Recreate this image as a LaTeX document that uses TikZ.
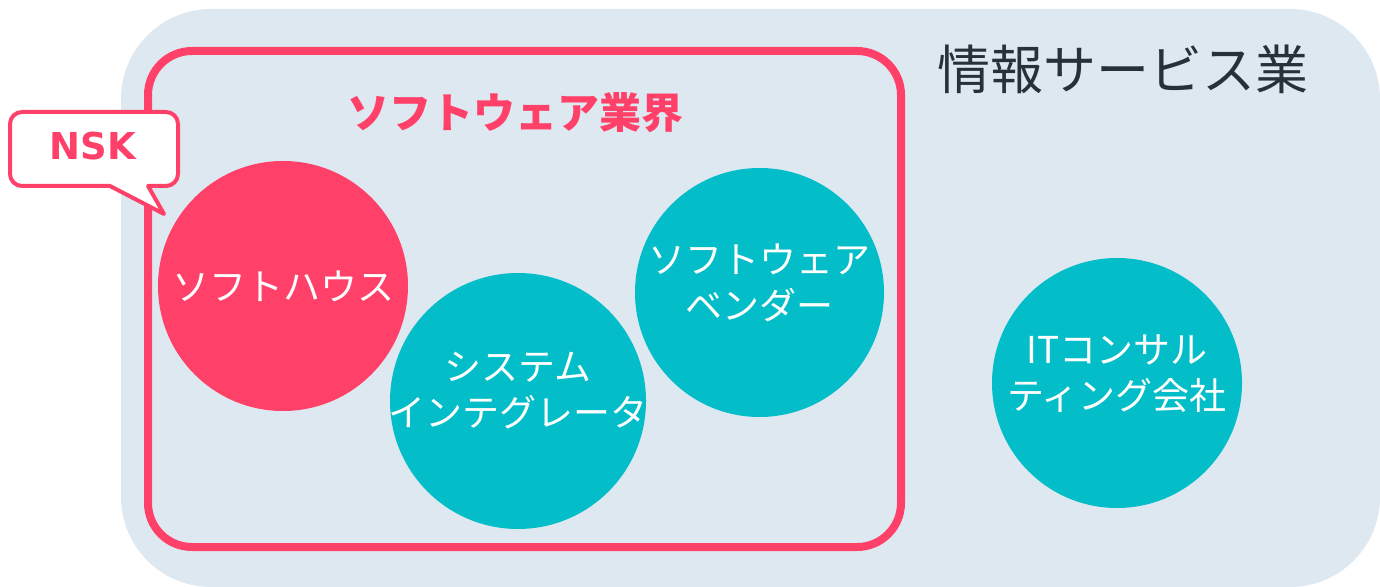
\documentclass[tikz,border=0pt]{standalone}
\usepackage{fontspec}
\setmainfont{Noto Sans CJK JP}
\newfontfamily\nskfont{DejaVu Sans}
\definecolor{nskpink}{HTML}{FF416A}
\definecolor{discteal}{HTML}{03BDC9}
\definecolor{areablue}{HTML}{DEE8F1}
\definecolor{titlegray}{HTML}{263238}
\begin{document}
\begin{tikzpicture}[x=0.5pt, y=-0.5pt, line join=round, line cap=round,
	disc/.style={circle, minimum size=#1, inner sep=0pt},
	disctext/.style={text=white, align=center, font=\fontsize{18.5}{23}\selectfont}]
	\useasboundingbox (0,0) rectangle (1380,587);
	% areas
	\fill[areablue, rounded corners=45pt] (121,9) rectangle (1380,587);
	\draw[nskpink, line width=4pt, rounded corners=22pt] (148,51) rectangle (901,547);
	\node[text=titlegray, font=\fontsize{26.5}{30}\selectfont] (service) at (1123,69) {情報サービス業};
	\node[text=nskpink, font=\bfseries\fontsize{21}{25}\selectfont] (software) at (515,113) {ソフトウェア業界};
	% circles
	\node[disc=125pt, fill=nskpink] (house) at (283,286) {};
	\node[disctext] (housetext) at (house.center) {ソフトハウス};
	\node[disc=128pt, fill=discteal] (integ) at (518,401) {};
	\node[disctext, yshift=5pt] (integtext) at (integ.center) {システム\\インテグレータ};
	\node[disc=124.5pt, fill=discteal] (vendor) at (759.5,292.5) {};
	\node[disctext, yshift=5pt] (vendortext) at (vendor.center) {ソフトウェア\\ベンダー};
	\node[disc=125pt, fill=discteal] (consult) at (1117,383) {};
	\node[disctext, yshift=4.5pt] (consulttext) at (consult.center) {ITコンサル\\ティング会社};
	% callout
	\draw[nskpink, fill=white, line width=2pt] (10,150) [rounded corners=6pt] -- (10,112) -- (178,112) -- (178,186)
		[sharp corners] -- (148,186) -- (164,214) -- (110,186) [rounded corners=6pt] -- (10,186) -- cycle;
	\node[text=nskpink, font=\nskfont\bfseries\fontsize{18.5}{22}\selectfont] (nsk) at (93,146) {NSK};
\end{tikzpicture}
\end{document}
